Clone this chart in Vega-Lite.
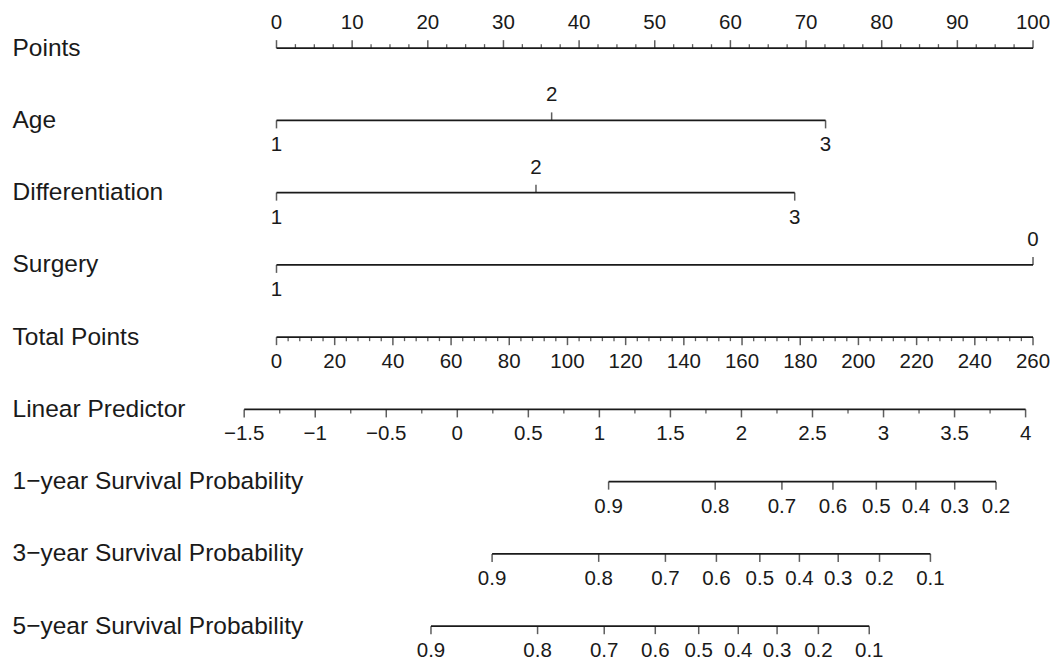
{
  "$schema": "https://vega.github.io/schema/vega-lite/v6.json",
  "width": 852,
  "height": 661,
  "padding": {"left": 12, "top": 0, "right": 0, "bottom": 0},
  "autosize": {"type": "pad"},
  "background": "white",
  "config": {"view": {"stroke": null}, "font": "Liberation Sans"},
  "datasets": {
    "lines": [
      {"v": "Points", "s": 0, "e": 100},
      {"v": "Age", "s": 0, "e": 72.58},
      {"v": "Differentiation", "s": 0, "e": 68.5},
      {"v": "Surgery", "s": 0, "e": 100},
      {"v": "Total Points", "s": 0, "e": 100},
      {"v": "Linear Predictor", "s": -4.27, "e": 99.02},
      {"v": "1−year Survival Probability", "s": 43.9, "e": 95.11},
      {"v": "3−year Survival Probability", "s": 28.5, "e": 86.44},
      {"v": "5−year Survival Probability", "s": 20.42, "e": 78.35}
    ],
    "major": [
      {"v": "Points", "p": 0, "t": "0", "s": "a"},
      {"v": "Points", "p": 10, "t": "10", "s": "a"},
      {"v": "Points", "p": 20, "t": "20", "s": "a"},
      {"v": "Points", "p": 30, "t": "30", "s": "a"},
      {"v": "Points", "p": 40, "t": "40", "s": "a"},
      {"v": "Points", "p": 50, "t": "50", "s": "a"},
      {"v": "Points", "p": 60, "t": "60", "s": "a"},
      {"v": "Points", "p": 70, "t": "70", "s": "a"},
      {"v": "Points", "p": 80, "t": "80", "s": "a"},
      {"v": "Points", "p": 90, "t": "90", "s": "a"},
      {"v": "Points", "p": 100, "t": "100", "s": "a"},
      {"v": "Age", "p": 0, "t": "1", "s": "b"},
      {"v": "Age", "p": 36.37, "t": "2", "s": "a"},
      {"v": "Age", "p": 72.58, "t": "3", "s": "b"},
      {"v": "Differentiation", "p": 0, "t": "1", "s": "b"},
      {"v": "Differentiation", "p": 34.3, "t": "2", "s": "a"},
      {"v": "Differentiation", "p": 68.5, "t": "3", "s": "b"},
      {"v": "Surgery", "p": 0, "t": "1", "s": "b"},
      {"v": "Surgery", "p": 100, "t": "0", "s": "a"},
      {"v": "Total Points", "p": 0, "t": "0", "s": "b"},
      {"v": "Total Points", "p": 7.692, "t": "20", "s": "b"},
      {"v": "Total Points", "p": 15.385, "t": "40", "s": "b"},
      {"v": "Total Points", "p": 23.077, "t": "60", "s": "b"},
      {"v": "Total Points", "p": 30.769, "t": "80", "s": "b"},
      {"v": "Total Points", "p": 38.462, "t": "100", "s": "b"},
      {"v": "Total Points", "p": 46.154, "t": "120", "s": "b"},
      {"v": "Total Points", "p": 53.846, "t": "140", "s": "b"},
      {"v": "Total Points", "p": 61.538, "t": "160", "s": "b"},
      {"v": "Total Points", "p": 69.231, "t": "180", "s": "b"},
      {"v": "Total Points", "p": 76.923, "t": "200", "s": "b"},
      {"v": "Total Points", "p": 84.615, "t": "220", "s": "b"},
      {"v": "Total Points", "p": 92.308, "t": "240", "s": "b"},
      {"v": "Total Points", "p": 100, "t": "260", "s": "b"},
      {"v": "Linear Predictor", "p": -4.27, "t": "−1.5", "s": "b"},
      {"v": "Linear Predictor", "p": 5.12, "t": "−1", "s": "b"},
      {"v": "Linear Predictor", "p": 14.51, "t": "−0.5", "s": "b"},
      {"v": "Linear Predictor", "p": 23.9, "t": "0", "s": "b"},
      {"v": "Linear Predictor", "p": 33.29, "t": "0.5", "s": "b"},
      {"v": "Linear Predictor", "p": 42.68, "t": "1", "s": "b"},
      {"v": "Linear Predictor", "p": 52.07, "t": "1.5", "s": "b"},
      {"v": "Linear Predictor", "p": 61.46, "t": "2", "s": "b"},
      {"v": "Linear Predictor", "p": 70.85, "t": "2.5", "s": "b"},
      {"v": "Linear Predictor", "p": 80.24, "t": "3", "s": "b"},
      {"v": "Linear Predictor", "p": 89.63, "t": "3.5", "s": "b"},
      {"v": "Linear Predictor", "p": 99.02, "t": "4", "s": "b"},
      {"v": "1−year Survival Probability", "p": 43.9, "t": "0.9", "s": "b"},
      {"v": "1−year Survival Probability", "p": 57.99, "t": "0.8", "s": "b"},
      {"v": "1−year Survival Probability", "p": 66.81, "t": "0.7", "s": "b"},
      {"v": "1−year Survival Probability", "p": 73.55, "t": "0.6", "s": "b"},
      {"v": "1−year Survival Probability", "p": 79.29, "t": "0.5", "s": "b"},
      {"v": "1−year Survival Probability", "p": 84.52, "t": "0.4", "s": "b"},
      {"v": "1−year Survival Probability", "p": 89.65, "t": "0.3", "s": "b"},
      {"v": "1−year Survival Probability", "p": 95.11, "t": "0.2", "s": "b"},
      {"v": "3−year Survival Probability", "p": 28.5, "t": "0.9", "s": "b"},
      {"v": "3−year Survival Probability", "p": 42.59, "t": "0.8", "s": "b"},
      {"v": "3−year Survival Probability", "p": 51.41, "t": "0.7", "s": "b"},
      {"v": "3−year Survival Probability", "p": 58.15, "t": "0.6", "s": "b"},
      {"v": "3−year Survival Probability", "p": 63.89, "t": "0.5", "s": "b"},
      {"v": "3−year Survival Probability", "p": 69.12, "t": "0.4", "s": "b"},
      {"v": "3−year Survival Probability", "p": 74.25, "t": "0.3", "s": "b"},
      {"v": "3−year Survival Probability", "p": 79.71, "t": "0.2", "s": "b"},
      {"v": "3−year Survival Probability", "p": 86.44, "t": "0.1", "s": "b"},
      {"v": "5−year Survival Probability", "p": 20.42, "t": "0.9", "s": "b"},
      {"v": "5−year Survival Probability", "p": 34.51, "t": "0.8", "s": "b"},
      {"v": "5−year Survival Probability", "p": 43.32, "t": "0.7", "s": "b"},
      {"v": "5−year Survival Probability", "p": 50.07, "t": "0.6", "s": "b"},
      {"v": "5−year Survival Probability", "p": 55.81, "t": "0.5", "s": "b"},
      {"v": "5−year Survival Probability", "p": 61.04, "t": "0.4", "s": "b"},
      {"v": "5−year Survival Probability", "p": 66.17, "t": "0.3", "s": "b"},
      {"v": "5−year Survival Probability", "p": 71.63, "t": "0.2", "s": "b"},
      {"v": "5−year Survival Probability", "p": 78.35, "t": "0.1", "s": "b"}
    ],
    "minor": [
      {"v": "Points", "p": 2.5, "d": "u"}, {"v": "Points", "p": 5, "d": "u"}, {"v": "Points", "p": 7.5, "d": "u"},
      {"v": "Points", "p": 12.5, "d": "u"}, {"v": "Points", "p": 15, "d": "u"}, {"v": "Points", "p": 17.5, "d": "u"},
      {"v": "Points", "p": 22.5, "d": "u"}, {"v": "Points", "p": 25, "d": "u"}, {"v": "Points", "p": 27.5, "d": "u"},
      {"v": "Points", "p": 32.5, "d": "u"}, {"v": "Points", "p": 35, "d": "u"}, {"v": "Points", "p": 37.5, "d": "u"},
      {"v": "Points", "p": 42.5, "d": "u"}, {"v": "Points", "p": 45, "d": "u"}, {"v": "Points", "p": 47.5, "d": "u"},
      {"v": "Points", "p": 52.5, "d": "u"}, {"v": "Points", "p": 55, "d": "u"}, {"v": "Points", "p": 57.5, "d": "u"},
      {"v": "Points", "p": 62.5, "d": "u"}, {"v": "Points", "p": 65, "d": "u"}, {"v": "Points", "p": 67.5, "d": "u"},
      {"v": "Points", "p": 72.5, "d": "u"}, {"v": "Points", "p": 75, "d": "u"}, {"v": "Points", "p": 77.5, "d": "u"},
      {"v": "Points", "p": 82.5, "d": "u"}, {"v": "Points", "p": 85, "d": "u"}, {"v": "Points", "p": 87.5, "d": "u"},
      {"v": "Points", "p": 92.5, "d": "u"}, {"v": "Points", "p": 95, "d": "u"}, {"v": "Points", "p": 97.5, "d": "u"},
      {"v": "Total Points", "p": 1.538, "d": "d"}, {"v": "Total Points", "p": 3.077, "d": "d"}, {"v": "Total Points", "p": 4.615, "d": "d"}, {"v": "Total Points", "p": 6.154, "d": "d"},
      {"v": "Total Points", "p": 9.231, "d": "d"}, {"v": "Total Points", "p": 10.769, "d": "d"}, {"v": "Total Points", "p": 12.308, "d": "d"}, {"v": "Total Points", "p": 13.846, "d": "d"},
      {"v": "Total Points", "p": 16.923, "d": "d"}, {"v": "Total Points", "p": 18.462, "d": "d"}, {"v": "Total Points", "p": 20.0, "d": "d"}, {"v": "Total Points", "p": 21.538, "d": "d"},
      {"v": "Total Points", "p": 24.615, "d": "d"}, {"v": "Total Points", "p": 26.154, "d": "d"}, {"v": "Total Points", "p": 27.692, "d": "d"}, {"v": "Total Points", "p": 29.231, "d": "d"},
      {"v": "Total Points", "p": 32.308, "d": "d"}, {"v": "Total Points", "p": 33.846, "d": "d"}, {"v": "Total Points", "p": 35.385, "d": "d"}, {"v": "Total Points", "p": 36.923, "d": "d"},
      {"v": "Total Points", "p": 40.0, "d": "d"}, {"v": "Total Points", "p": 41.538, "d": "d"}, {"v": "Total Points", "p": 43.077, "d": "d"}, {"v": "Total Points", "p": 44.615, "d": "d"},
      {"v": "Total Points", "p": 47.692, "d": "d"}, {"v": "Total Points", "p": 49.231, "d": "d"}, {"v": "Total Points", "p": 50.769, "d": "d"}, {"v": "Total Points", "p": 52.308, "d": "d"},
      {"v": "Total Points", "p": 55.385, "d": "d"}, {"v": "Total Points", "p": 56.923, "d": "d"}, {"v": "Total Points", "p": 58.462, "d": "d"}, {"v": "Total Points", "p": 60.0, "d": "d"},
      {"v": "Total Points", "p": 63.077, "d": "d"}, {"v": "Total Points", "p": 64.615, "d": "d"}, {"v": "Total Points", "p": 66.154, "d": "d"}, {"v": "Total Points", "p": 67.692, "d": "d"},
      {"v": "Total Points", "p": 70.769, "d": "d"}, {"v": "Total Points", "p": 72.308, "d": "d"}, {"v": "Total Points", "p": 73.846, "d": "d"}, {"v": "Total Points", "p": 75.385, "d": "d"},
      {"v": "Total Points", "p": 78.462, "d": "d"}, {"v": "Total Points", "p": 80.0, "d": "d"}, {"v": "Total Points", "p": 81.538, "d": "d"}, {"v": "Total Points", "p": 83.077, "d": "d"},
      {"v": "Total Points", "p": 86.154, "d": "d"}, {"v": "Total Points", "p": 87.692, "d": "d"}, {"v": "Total Points", "p": 89.231, "d": "d"}, {"v": "Total Points", "p": 90.769, "d": "d"},
      {"v": "Total Points", "p": 93.846, "d": "d"}, {"v": "Total Points", "p": 95.385, "d": "d"}, {"v": "Total Points", "p": 96.923, "d": "d"}, {"v": "Total Points", "p": 98.462, "d": "d"},
      {"v": "Linear Predictor", "p": 0.425, "d": "d"}, {"v": "Linear Predictor", "p": 9.815, "d": "d"}, {"v": "Linear Predictor", "p": 19.205, "d": "d"},
      {"v": "Linear Predictor", "p": 28.595, "d": "d"}, {"v": "Linear Predictor", "p": 37.985, "d": "d"}, {"v": "Linear Predictor", "p": 47.375, "d": "d"},
      {"v": "Linear Predictor", "p": 56.765, "d": "d"}, {"v": "Linear Predictor", "p": 66.155, "d": "d"}, {"v": "Linear Predictor", "p": 75.545, "d": "d"},
      {"v": "Linear Predictor", "p": 84.935, "d": "d"}, {"v": "Linear Predictor", "p": 94.325, "d": "d"}
    ]
  },
  "encoding": {
    "y": {
      "field": "v",
      "type": "nominal",
      "scale": {
        "type": "point",
        "domain": ["Points", "Age", "Differentiation", "Surgery", "Total Points", "Linear Predictor", "1−year Survival Probability", "3−year Survival Probability", "5−year Survival Probability"],
        "padding": 0.5744,
        "align": 0.58
      },
      "axis": {
        "title": null,
        "domain": false,
        "ticks": false,
        "tickSize": 0,
        "grid": false,
        "labelAlign": "left",
        "labelBaseline": "middle",
        "labelPadding": 188,
        "labelFontSize": 24.5,
        "labelFont": "Liberation Sans",
        "labelColor": "#1a1a1a",
        "labelLimit": 500
      }
    }
  },
  "layer": [
    {
      "data": {"name": "lines"},
      "mark": {"type": "rule", "strokeWidth": 1.7, "color": "#1a1a1a"},
      "encoding": {
        "x": {"field": "s", "type": "quantitative", "scale": {"domain": [-10.112, 102.51], "nice": false, "zero": false}, "axis": null},
        "x2": {"field": "e"}
      }
    },
    {
      "data": {"name": "major"},
      "transform": [{"filter": "datum.s == 'a'"}],
      "mark": {"type": "tick", "orient": "vertical", "size": 8, "thickness": 1.5, "yOffset": -4, "color": "#1a1a1a"},
      "encoding": {"x": {"field": "p", "type": "quantitative"}}
    },
    {
      "data": {"name": "major"},
      "transform": [{"filter": "datum.s == 'b'"}],
      "mark": {"type": "tick", "orient": "vertical", "size": 8, "thickness": 1.5, "yOffset": 4, "color": "#1a1a1a"},
      "encoding": {"x": {"field": "p", "type": "quantitative"}}
    },
    {
      "data": {"name": "minor"},
      "transform": [{"filter": "datum.d == 'u'"}],
      "mark": {"type": "tick", "orient": "vertical", "size": 4, "thickness": 1.3, "yOffset": -2, "color": "#1a1a1a"},
      "encoding": {"x": {"field": "p", "type": "quantitative"}}
    },
    {
      "data": {"name": "minor"},
      "transform": [{"filter": "datum.d == 'd'"}],
      "mark": {"type": "tick", "orient": "vertical", "size": 4, "thickness": 1.3, "yOffset": 2, "color": "#1a1a1a"},
      "encoding": {"x": {"field": "p", "type": "quantitative"}}
    },
    {
      "data": {"name": "major"},
      "transform": [{"filter": "datum.s == 'a'"}],
      "mark": {"type": "text", "dy": -25, "fontSize": 20.5, "font": "Liberation Sans", "color": "#1a1a1a", "baseline": "middle", "align": "center"},
      "encoding": {"x": {"field": "p", "type": "quantitative"}, "text": {"field": "t"}}
    },
    {
      "data": {"name": "major"},
      "transform": [{"filter": "datum.s == 'b'"}],
      "mark": {"type": "text", "dy": 25, "fontSize": 20.5, "font": "Liberation Sans", "color": "#1a1a1a", "baseline": "middle", "align": "center"},
      "encoding": {"x": {"field": "p", "type": "quantitative"}, "text": {"field": "t"}}
    }
  ]
}
